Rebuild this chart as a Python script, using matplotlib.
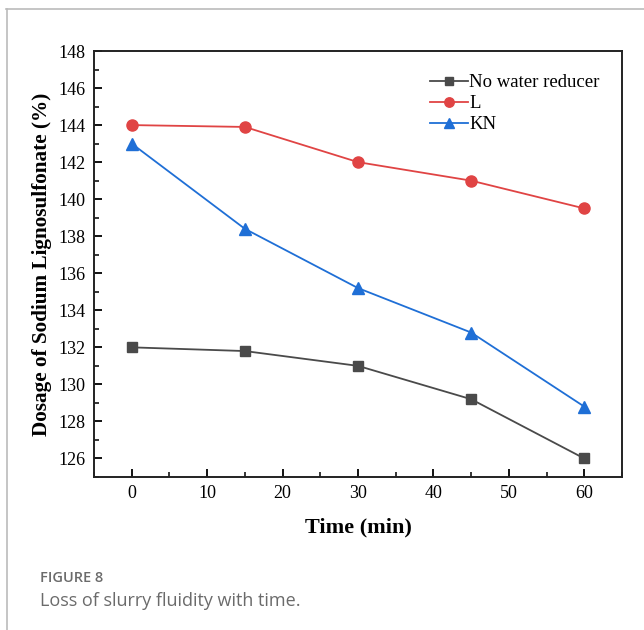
import matplotlib
matplotlib.use("Agg")
import matplotlib.pyplot as plt
from matplotlib.ticker import MultipleLocator
from matplotlib.lines import Line2D

time = [0, 15, 30, 45, 60]
no_reducer = [132.0, 131.8, 131.0, 129.2, 126.0]
l_vals = [144.0, 143.9, 142.0, 141.0, 139.5]
kn_vals = [143.0, 138.4, 135.2, 132.8, 128.8]
series_names = ["No water reducer", "L", "KN"]

fig = plt.figure(figsize=(6.44, 6.30), dpi=100)
ax = fig.add_axes([94/644, 1-477/630, (622-94)/644, (477-51)/630])

serif = "Liberation Serif"
ax.plot(time, no_reducer, color="#4a4a4a", marker="s", markersize=7, lw=1.3, label=series_names[0])
ax.plot(time, l_vals, color="#e04444", marker="o", markersize=8, lw=1.3, label=series_names[1])
ax.plot(time, kn_vals, color="#1f6fd6", marker="^", markersize=8, lw=1.3, label=series_names[2])

ax.set_xlim(-5, 65)
ax.set_ylim(125, 148)
ax.xaxis.set_major_locator(MultipleLocator(10))
ax.xaxis.set_minor_locator(MultipleLocator(5))
ax.yaxis.set_major_locator(MultipleLocator(2))
ax.yaxis.set_minor_locator(MultipleLocator(1))
ax.tick_params(which="both", direction="in", top=False, right=False)
ax.tick_params(which="major", length=6, width=1.3, labelsize=13, pad=6)
ax.tick_params(which="minor", length=3.5, width=1.1)
for lab in ax.get_xticklabels() + ax.get_yticklabels():
    lab.set_fontfamily(serif)
for sp in ax.spines.values():
    sp.set_linewidth(1.4)
    sp.set_color("#222222")

ax.set_xlabel("Time (min)", fontfamily=serif, fontweight="bold", fontsize=16, labelpad=11)
ax.set_ylabel("Dosage of Sodium Lignosulfonate (%)", fontfamily=serif, fontweight="bold", fontsize=15.3, labelpad=5)

leg = ax.legend(loc="upper right", bbox_to_anchor=(0.99, 0.985), frameon=False,
                prop={"family": serif, "size": 13.5}, handlelength=2.0,
                handletextpad=0.1, labelspacing=0.2, markerscale=0.85)

# frame lines of the page
fig.add_artist(Line2D([6/644, 1], [1-9/630, 1-9/630], color="#bbbbbb", lw=1.2))
fig.add_artist(Line2D([7/644, 7/644], [0, 1-9/630], color="#bbbbbb", lw=1.2))

fig.text(40/644, 1-578/630, "FIGURE 8", fontfamily="Open Sans", fontsize=10.5,
         fontweight="semibold", color="#6b6b6b", va="center")
fig.text(40/644, 1-601/630, "Loss of slurry fluidity with time.", fontfamily="Open Sans",
         fontsize=13, color="#6b6b6b", va="center")

fig.savefig("out.png", dpi=100)
